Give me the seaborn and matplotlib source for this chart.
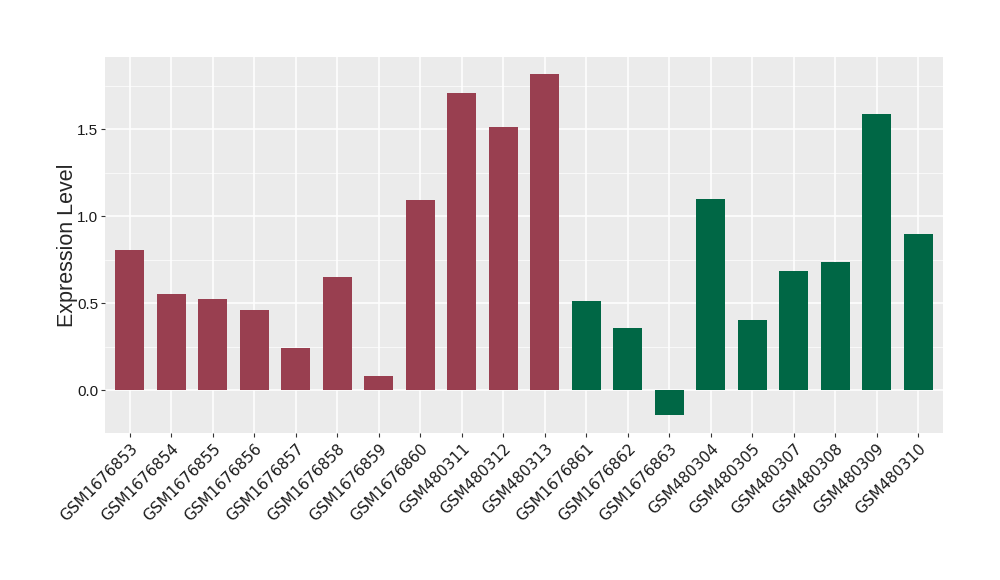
import pandas as pd
import seaborn as sns
import matplotlib.pyplot as plt
from matplotlib.ticker import MultipleLocator

samples = ['GSM1676853', 'GSM1676854', 'GSM1676855', 'GSM1676856', 'GSM1676857',
           'GSM1676858', 'GSM1676859', 'GSM1676860', 'GSM480311', 'GSM480312',
           'GSM480313', 'GSM1676861', 'GSM1676862', 'GSM1676863', 'GSM480304',
           'GSM480305', 'GSM480307', 'GSM480308', 'GSM480309', 'GSM480310']
expression = [0.805, 0.552, 0.523, 0.460, 0.241, 0.649, 0.080, 1.092, 1.707, 1.511,
              1.816, 0.511, 0.356, -0.144, 1.098, 0.402, 0.684, 0.736, 1.586, 0.897]
groups = ['A'] * 11 + ['B'] * 9
group_colors = {'A': '#993F50', 'B': '#006745'}

df = pd.DataFrame({'sample': samples, 'expr': expression, 'group': groups})

sns.set_theme(style='darkgrid')
fig = plt.figure(figsize=(10, 5.8), dpi=100)
ax = fig.add_axes([0.105, 0.2534, 0.838, 0.6483])
ax.set_facecolor('#EBEBEB')

sns.barplot(data=df, x='sample', y='expr', hue='group', palette=group_colors,
            dodge=False, width=0.7, saturation=1, legend=False, linewidth=0,
            edgecolor='none', ax=ax)

ax.set_xlim(-0.6, len(samples) - 0.4)
ax.set_ylim(-0.247, 1.914)
ax.yaxis.set_major_locator(MultipleLocator(0.5))
ax.yaxis.set_minor_locator(MultipleLocator(0.25))
ax.grid(which='major', color='white', linewidth=1.1)
ax.grid(which='minor', axis='y', color='white', linewidth=0.5)
ax.set_axisbelow(True)
for s in ax.spines.values():
    s.set_visible(False)

ax.set_xlabel('')
ax.set_ylabel('Expression Level', fontsize=15.5, family=['Liberation Sans', 'DejaVu Sans'])
ax.yaxis.set_label_coords(-0.032, 0.5)
ax.set_yticks([0, 0.5, 1.0, 1.5])
ax.set_yticklabels(['0.0', '0.5', '1.0', '1.5'], fontsize=11,
                   family=['Liberation Sans', 'DejaVu Sans'], color='#1A1A1A')
plt.setp(ax.get_xticklabels(), rotation=45, ha='right', rotation_mode='anchor',
         fontsize=11, family='DejaVu Sans', color='#1A1A1A')
ax.tick_params(axis='both', which='major', length=3, width=0.8, color='#333333',
               bottom=True, left=True)
ax.tick_params(axis='y', which='major', pad=2)
ax.tick_params(axis='x', which='major', pad=3)
ax.tick_params(axis='y', which='minor', length=0)

plt.savefig('out.png', dpi=100)
plt.close()
